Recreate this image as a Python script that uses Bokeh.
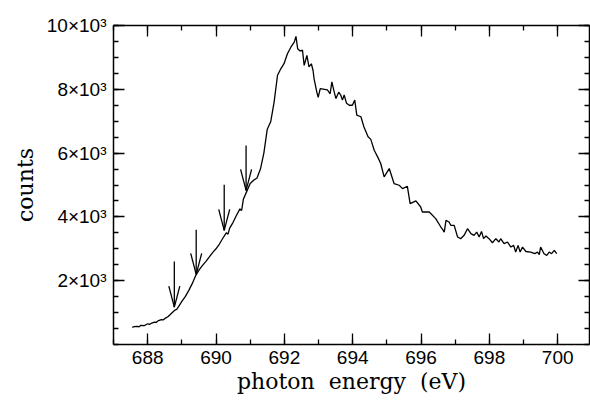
from bokeh.plotting import figure
from bokeh.models import LinearAxis, FixedTicker, ColumnDataSource
from bokeh.embed import file_html
from bokeh.resources import INLINE

# ---- data ----
energy = [687.55, 687.60, 687.70, 687.75, 687.80, 687.90, 687.95, 688.00, 688.05, 688.10,
          688.20, 688.25, 688.30, 688.40, 688.45, 688.50, 688.60, 688.70, 688.80, 688.85,
          688.90, 689.00, 689.10, 689.20, 689.30, 689.40, 689.50, 689.60, 689.70, 689.80,
          689.90, 690.00, 690.10, 690.20, 690.30, 690.35, 690.40, 690.50, 690.60, 690.70,
          690.75, 690.80, 690.90, 691.00, 691.10, 691.20, 691.30, 691.40, 691.50, 691.60,
          691.70, 691.80, 691.90, 691.99, 692.09, 692.19, 692.29, 692.34, 692.39, 692.46,
          692.53, 692.58, 692.66, 692.72, 692.79, 692.84, 692.87, 692.95, 692.99, 693.05,
          693.26, 693.34, 693.39, 693.46, 693.51, 693.59, 693.65, 693.70, 693.75, 693.82,
          693.90, 693.99, 694.06, 694.12, 694.24, 694.33, 694.45, 694.53, 694.63, 694.73,
          694.82, 694.92, 695.07, 695.21, 695.36, 695.46, 695.60, 695.68, 695.85, 695.99,
          696.04, 696.24, 696.43, 696.58, 696.63, 696.68, 696.73, 696.82, 696.87, 696.97,
          697.07, 697.16, 697.26, 697.36, 697.46, 697.55, 697.63, 697.70, 697.77, 697.83,
          697.90, 697.99, 698.09, 698.19, 698.28, 698.33, 698.43, 698.53, 698.63, 698.71,
          698.77, 698.84, 698.90, 698.97, 699.07, 699.21, 699.33, 699.41, 699.46, 699.50,
          699.60, 699.68, 699.75, 699.82, 699.90, 699.97]
counts = [540, 560, 570, 555, 600, 590, 620, 650, 630, 660,
          700, 690, 740, 780, 770, 810, 880, 980, 1080, 1100,
          1180, 1350, 1500, 1690, 1900, 2150, 2330, 2470, 2600, 2740,
          2880, 3000, 3150, 3330, 3500, 3460, 3650, 3830, 4050, 4250,
          4200, 4550, 4800, 5050, 5150, 5220, 5500, 6000, 6750, 6980,
          7600, 8440, 8650, 8802, 9115, 9320, 9480, 9660, 9270, 9200,
          9230, 8750, 9060, 8700, 8800, 8590, 8330, 7910, 7750, 8020,
          7985, 7860, 8230, 7910, 7710, 7910, 7820, 7660, 7820, 7560,
          7500, 7500, 7660, 7190, 7140, 6820, 6510, 6430, 6091, 5881,
          5673, 5253, 5516, 5045, 4992, 4887, 4960, 4417, 4500, 4311,
          4154, 4154, 3947, 3683, 3610, 3525, 3893, 3840, 3736, 3736,
          3370, 3317, 3422, 3630, 3474, 3422, 3525, 3370, 3545, 3317,
          3400, 3317, 3190, 3317, 3212, 3317, 3160, 3212, 3055, 3108,
          2898, 3108, 2898, 3055, 2915, 2898, 2847, 2898, 2815, 3055,
          2847, 2794, 2898, 2847, 2951, 2847]

arrow_x = [688.78, 689.42, 690.24, 690.88]
arrow_tip = [1170, 2200, 3580, 4830]
arrow_tail = [2600, 3600, 5010, 6240]

x_major = [688, 690, 692, 694, 696, 698, 700]
x_minor = [687, 688, 689, 690, 691, 692, 693, 694, 695, 696, 697, 698, 699, 700]
y_major = [2000, 4000, 6000, 8000, 10000]
y_minor = [500 * i for i in range(21)]
y_labels = {2000: "2×10³", 4000: "4×10³", 6000: "6×10³", 8000: "8×10³", 10000: "10×10³"}

X0, X1 = 687.0, 700.93
Y0, Y1 = 0, 10000

W, H = 590, 401
BL, BR, BT, BB = 113, 1, 25, 57

p = figure(width=W, height=H, x_range=(X0, X1), y_range=(Y0, Y1),
           output_backend="svg", toolbar_location=None,
           min_border_left=BL, min_border_right=BR, min_border_top=BT,
           min_border_bottom=BB)
p.outline_line_color = None
p.xgrid.visible = False
p.ygrid.visible = False
p.background_fill_color = "white"

# arrowhead size in data units derived from frame pixel scale
frame_w = W - BL - BR
frame_h = H - BT - BB
head_dx = 5.5 * (X1 - X0) / frame_w
head_dy = 21 * (Y1 - Y0) / frame_h

p.line(energy, counts, line_color="black", line_width=1.3)

src = ColumnDataSource(dict(x=arrow_x, tip=arrow_tip, tail=arrow_tail,
                            xl=[a - head_dx for a in arrow_x],
                            xr=[a + head_dx for a in arrow_x],
                            hy=[t + head_dy for t in arrow_tip]))
p.segment(x0="x", y0="tail", x1="x", y1="tip", source=src, line_color="black", line_width=1.3)
p.segment(x0="xl", y0="hy", x1="x", y1="tip", source=src, line_color="black", line_width=1.3)
p.segment(x0="xr", y0="hy", x1="x", y1="tip", source=src, line_color="black", line_width=1.3)

def style(ax, ticks, minor):
    ax.ticker = FixedTicker(ticks=ticks, minor_ticks=minor)
    ax.major_tick_in = 11
    ax.major_tick_out = 0
    ax.minor_tick_in = 5
    ax.minor_tick_out = 0
    ax.axis_line_color = "black"
    ax.axis_line_width = 1.5
    ax.major_tick_line_color = "black"
    ax.major_tick_line_width = 1.3
    ax.minor_tick_line_color = "black"
    ax.minor_tick_line_width = 1.3
    ax.major_label_text_color = "black"
    ax.axis_label_text_color = "black"

xa = p.xaxis[0]
style(xa, x_major, x_minor)
xa.axis_label = "photon\u00a0\u00a0energy\u00a0\u00a0(eV)"
xa.axis_label_text_font = "DejaVu Serif"
xa.axis_label_text_font_size = "22px"
xa.axis_label_text_font_style = "normal"
xa.axis_label_standoff = 2
xa.major_label_text_font = "Liberation Sans"
xa.major_label_text_font_size = "19px"
xa.major_label_standoff = 6

ya = p.yaxis[0]
style(ya, y_major, y_minor)
ya.major_label_overrides = y_labels
ya.axis_label = "counts"
ya.axis_label_text_font = "DejaVu Serif"
ya.axis_label_text_font_size = "22px"
ya.axis_label_text_font_style = "normal"
ya.axis_label_standoff = 6
ya.major_label_text_font = "Liberation Sans"
ya.major_label_text_font_size = "19px"
ya.major_label_standoff = 7
ya.major_label_orientation = "horizontal"

top = LinearAxis()
style(top, x_major, x_minor)
top.major_label_overrides = {t: "" for t in x_major}
top.major_label_standoff = 0
p.add_layout(top, "above")

right = LinearAxis()
style(right, y_major, y_minor)
right.major_label_overrides = {t: "" for t in y_major}
right.major_label_standoff = 0
p.add_layout(right, "right")

open("out.html", "w").write(file_html(p, INLINE))
